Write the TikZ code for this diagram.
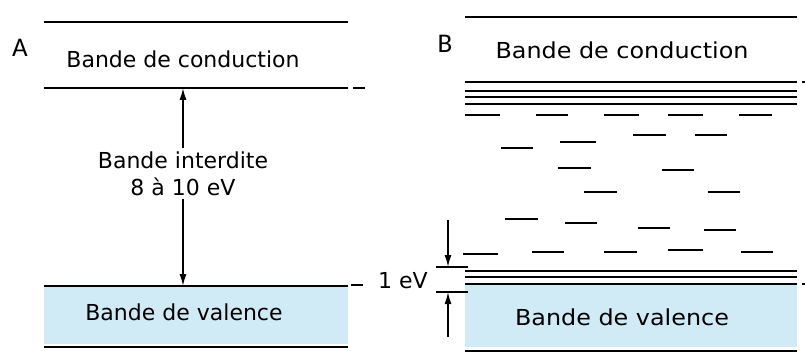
\documentclass[tikz,border=0pt]{standalone}
\usepackage{fontspec}
\setmainfont{DejaVu Sans}
\newfontfamily\lettre{Carlito}
\usetikzlibrary{arrows.meta}
\definecolor{valfill}{RGB}{208,235,245}

\begin{document}
\begin{tikzpicture}[x=1pt,y=-1pt,
		band/.style={line width=2pt},
		lvl/.style={line width=2pt},
		fleche/.style={line width=1.5pt,-{Latex[length=12pt,width=7pt]}},
		txt/.style={font=\fontsize{22}{26}\selectfont,inner sep=3pt,anchor=base},
		txtB/.style={txt,xscale=1.085},
		lettrenode/.style={font=\fontsize{27}{30}\selectfont\lettre,inner sep=0pt,anchor=base}]
		\useasboundingbox (0,0) rectangle (805,358);

		% A : isolant
		\fill[valfill] (44,286) rectangle (348,344);
		\draw[band] (44,22) -- (348,22);
		\draw[band] (44,88) -- (348,88) (353,88) -- (365,88);
		\draw[band] (44,286) -- (348,286) (351,285) -- (363,285);
		\draw[band] (44,347) -- (348,347);

		\node[lettrenode] (lA) at (20,57) {A};
		\node[txt] (condA) at (183,68) {Bande de conduction};
		\node[txt] (gapA) at (183,168) {Bande interdite};
		\node[txt] (gapB) at (183,195) {8 à 10 eV};
		\node[txt] (valA) at (184,320) {Bande de valence};

		\coordinate (cb) at (183,88);
		\coordinate (vt) at (183,286);
		\draw[fleche] (gapA.north) -- (cb);
		\draw[fleche] (gapB.south) -- (vt);

		% B : niveaux dans la bande interdite
		\fill[valfill] (465,285) rectangle (797,347);
		\draw[band] (465,17) -- (797,17);
		\draw[band] (465,82) -- (797,82) (802,82) -- (805,82);
		\draw[band] (465,91) -- (797,91);
		\draw[band] (465,97) -- (797,97);
		\draw[band] (465,104) -- (797,104);
		\draw[band] (465,271) -- (797,271);
		\draw[band] (465,277) -- (797,277);
		\draw[band] (465,284) -- (797,284) (802,284) -- (805,284);
		\draw[band] (465,351) -- (797,351);

		\draw[lvl] (465,115) -- (500,115) (536,115) -- (568,115) (604,115) -- (639,115) (668,115) -- (703,115) (739,115) -- (772,115);
		\draw[lvl] (633,135) -- (666,135) (695,135) -- (727,135) (560,142) -- (596,142) (501,148) -- (533,148);
		\draw[lvl] (558,168) -- (591,168) (662,170) -- (694,170);
		\draw[lvl] (584,192) -- (617,192) (708,192) -- (740,192);
		\draw[lvl] (505,219) -- (538,219) (565,223) -- (597,223) (638,228) -- (670,228) (704,230) -- (736,230);
		\draw[lvl] (463,254) -- (498,254) (532,252) -- (564,252) (604,252) -- (637,252) (668,250) -- (703,250) (741,252) -- (773,252);

		\node[lettrenode] (lB) at (445,53) {B};
		\node[txtB] (condB) at (622,59) {Bande de conduction};
		\node[txtB] (valB) at (622,325) {Bande de valence};
		\node[txt] (ev) at (403,288) {1 eV};

		\draw[lvl] (436,267) -- (468,267);
		\draw[lvl] (436,292) -- (468,292);
		\coordinate (hautA) at (448,220);
		\coordinate (hautB) at (448,267);
		\coordinate (basA) at (448,337);
		\coordinate (basB) at (448,292);
		\draw[fleche] (hautA) -- (hautB);
		\draw[fleche] (basA) -- (basB);

\end{tikzpicture}
\end{document}
